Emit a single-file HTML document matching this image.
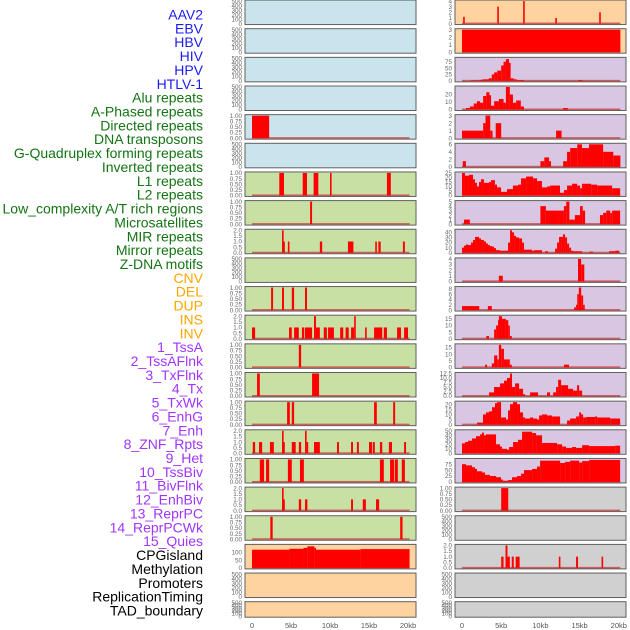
<!DOCTYPE html>
<html><head><meta charset="utf-8">
<style>
html,body{margin:0;padding:0;background:#fff;}
svg{display:block;font-family:"Liberation Sans",sans-serif;}
</style></head>
<body>
<svg id="chart" width="630" height="630" viewBox="0 0 630 630"></svg>
<script>
// ---- labels ----
const labels = ["AAV2","EBV","HBV","HIV","HPV","HTLV-1","Alu repeats","A-Phased repeats","Directed repeats","DNA transposons","G-Quadruplex forming repeats","Inverted repeats","L1 repeats","L2 repeats","Low_complexity A/T rich regions","Microsatellites","MIR repeats","Mirror repeats","Z-DNA motifs","CNV","DEL","DUP","INS","INV","1_TssA","2_TssAFlnk","3_TxFlnk","4_Tx","5_TxWk","6_EnhG","7_Enh","8_ZNF_Rpts","9_Het","10_TssBiv","11_BivFlnk","12_EnhBiv","13_ReprPC","14_ReprPCWk","15_Quies","CPGisland","Methylation","Promoters","ReplicationTiming","TAD_boundary"];
const labelGroups = [6,13,5,15,5];
const groupColors = ["#1c1cf0","#137413","#ffa500","#a035ff","#000000"];
const xTickValues = [0,5,10,15,20];
const xTickLabels = ["0","5kb","10kb","15kb","20kb"];

// ---- panel background categories ----
const col1Bg = ["b","b","b","b","b","b","g","g","g","g","g","g","g","g","g","g","g","g","g","o","o","o"];
const col2Bg = ["o","o","p","p","p","p","p","p","p","p","p","p","p","p","p","p","p","y","y","y","y","y"];
const bgColors = {b:"#c9e4ec",g:"#c9e0a5",o:"#ffd3a0",p:"#d8c6e2",y:"#d0d0d0"};

// ---- y maxima (0 = empty panel with 0..500 ticks) ----
const col1YMax = [0,0,0,0,1,0,1,1,2,0,1,2,1,1,1,2,1,2,1,146,0,0];
const col2YMax = [4,3,88,30,3,6,25,5,44,4,8.5,17,17,12.5,22,50,95,1,0,2,0,0];
const col1Ticks = [null,null,null,null,"q",null,"q","q","h",null,"q","h","q","q","q","h","q","h","q",[0,50,100],null,null];
const col2Ticks = [[0,1,2,3,4],[0,1,2,3],[0,25,50,75],[0,10,20],[0,1,2,3],[0,2,4,6],[0,5,10,15,20,25],[0,1,2,3,4,5],[0,10,20,30,40],[0,1,2,3,4],[0,2,4,6,8],[0,5,10,15],[0,5,10,15],"e",[0,5,10,15,20],[0,10,20,30,40,50],[0,25,50,75],"q",null,"h",null,null];

// ---- data segments [startKb, endKb, value] ----
const c1r4 = [[0,2.2,1]];
const c1r6 = [[3.5,4.1,1],[6.5,7.05,1],[7.9,8.5,1],[10,10.2,1],[17.3,17.8,1]];
const c1r7 = [[7.45,7.7,1]];
const c1r8 = [[3.85,4.0,2],[4.0,4.2,1],[4.6,4.8,1],[8.7,9.0,1],[12.3,13.0,1],[15.8,16.0,1],[16.2,16.5,1],[19.35,19.6,1]];
const c1r10 = [[2.45,2.7,1],[3.85,4.1,1],[5.1,5.4,1],[6.8,7.05,1]];
const c1r11 = [[0,0.4,1],[4.75,5.1,1],[5.4,6.0,1],[6.4,6.7,1],[6.8,7.7,1],[7.95,8.2,2],[8.2,8.7,1],[9.2,9.6,1],[9.75,10.5,1],[11.3,11.7,1],[12,12.4,1],[12.7,13.1,1],[13.1,13.3,2],[14.5,14.7,1],[15.65,16.7,1],[16.9,17.3,1],[18.6,19.1,1],[19.5,20,1]];
const c1r12 = [[6.0,6.3,1]];
const c1r13 = [[0.65,1.0,1],[7.7,8.6,1]];
const c1r14 = [[4.5,4.85,1],[5.1,5.4,1],[15.65,16.0,1],[18.1,18.35,1]];
const c1r15 = [[0.1,0.4,1],[0.9,1.3,1],[2.3,2.8,1],[3.85,4.0,2],[4.0,4.2,1],[5.1,5.6,1],[6.0,6.3,1],[6.8,7.0,2],[7.0,7.2,1],[7.95,8.7,1],[10.9,11.15,1],[12.7,12.95,1],[13.45,13.7,1],[15,15.4,1],[15.5,15.75,1],[16.4,16.7,1],[17.55,17.95,1],[19.5,19.75,1]];
const c1r16 = [[1.0,1.55,1],[1.8,2.2,1],[4.6,5.1,1],[6.15,6.65,1],[16.4,16.9,1],[17.7,18.2,1],[18.3,18.7,1],[19.2,19.6,1]];
const c1r17 = [[3.85,4.0,2],[4.0,4.2,1],[6.0,6.3,1],[6.8,7.1,1],[12.7,12.95,1],[14.2,14.6,1],[15.9,16.3,1]];
const c1r18 = [[2.35,2.65,1],[19.0,19.3,1]];
const c1r19 = [[0,4.8,118],[4.8,6.6,124],[6.6,7.1,130],[7.1,8.0,140],[8.0,8.2,130],[8.2,13.9,118],[13.9,20.2,122]];

const c2r0 = [[0.15,0.3,1.2],[4.5,4.65,3],[7.8,7.95,4],[11.9,12.05,1],[17.5,17.65,2]];
const c2r1 = [[0,20.2,3]];
const c2r2 = [[1.1,2.2,2],[2.2,2.6,4],[2.6,3.4,6],[3.4,3.8,10],[3.8,4.1,25],[4.1,4.5,33],[4.5,5.0,40],[5.0,5.3,60],[5.3,5.6,75],[5.6,6.0,85],[6.0,6.2,70],[6.2,6.6,10],[6.6,7.0,6],[7.0,7.9,3],[14.8,15.4,3]];
const c2r3 = [[0.5,1.0,2],[1.0,1.5,4],[1.5,1.9,8],[1.9,2.3,11],[2.3,2.7,9],[2.7,3.1,18],[3.1,3.5,23],[3.5,3.7,19],[3.7,4.1,5],[4.1,4.7,11],[4.7,5.3,14],[5.3,5.6,9],[5.6,6.1,30],[6.1,6.5,20],[6.5,6.9,9],[6.9,7.5,12],[7.5,7.9,4],[12.9,13.5,2]];
const c2r4 = [[0,2.7,1],[2.7,3.0,2],[3.0,3.6,3],[3.6,3.9,1],[4.3,5.0,2],[12,12.7,1]];
const c2r5 = [[0.1,0.5,1.5],[10,10.5,1.5],[10.5,11.1,2.5],[11.1,11.35,1.5],[12.9,13.4,1.5],[13.4,13.8,4],[13.8,14.7,5],[14.7,15.3,6],[15.3,16.2,5],[16.2,18,6],[18,19.3,4],[19.3,20.2,3]];
const c2r6 = [[0,0.38,25],[0.38,0.89,22],[0.89,1.4,23],[1.4,1.66,18],[1.66,1.91,14],[1.91,2.17,10],[2.17,2.43,15],[2.43,2.8,18],[2.8,3.45,14],[3.45,3.7,15],[3.7,4.2,17],[4.2,4.47,12],[4.47,4.98,9],[4.98,5.74,4],[5.74,6.5,7],[6.5,7.15,11],[7.15,7.53,12],[7.53,8.17,19],[8.17,9.06,21],[9.06,9.57,19],[9.57,10.2,16],[10.2,10.85,9],[10.85,11.23,10],[11.23,12.5,11],[12.5,13.0,3],[13.0,13.4,6],[13.4,14.04,11],[14.04,14.68,13],[14.68,15.06,11],[15.06,15.3,8],[15.3,16.47,13],[16.47,17.23,12],[17.23,19.15,11],[19.15,20.17,8]];
const c2r7 = [[0.25,1.0,1],[10,10.7,4],[10.7,12.25,3],[12.25,13.0,3],[13.0,13.3,4],[13.3,13.7,5],[13.7,14.4,1],[14.4,15.06,2],[15.06,15.4,4],[15.4,15.7,3],[17.6,18,2],[18,18.4,2.5],[18.4,18.9,3],[18.9,19.15,2.5],[19.15,20.17,3]];
const c2r8 = [[0,0.26,10],[0.26,0.51,14],[0.51,0.77,16],[0.77,1.15,15],[1.15,1.4,20],[1.4,1.66,25],[1.66,2.17,31],[2.17,2.43,28],[2.43,2.8,25],[2.8,3.06,22],[3.06,3.32,18],[3.32,3.57,15],[3.57,3.83,13],[3.83,4.09,12],[4.09,4.34,9],[4.34,4.85,5],[4.85,5.87,4],[5.87,6.13,20],[6.13,6.38,44],[6.38,6.64,40],[6.64,6.89,33],[6.89,7.28,30],[7.28,7.66,28],[7.66,7.91,20],[7.91,8.94,6],[8.94,9.19,4],[9.19,10.21,5],[10.6,10.98,3],[11.87,12.13,8],[12.13,12.38,20],[12.38,12.64,31],[12.64,12.89,31],[12.89,13.15,36],[13.15,13.4,30],[13.4,13.66,18],[13.66,13.91,10],[13.91,14.17,4],[14.17,15.32,3],[16.2,16.72,2],[18.77,19.53,3],[19.53,20.04,4]];
const c2r9 = [[4.7,5.2,1],[14.8,15.2,4],[15.2,15.6,3]];
const c2r10 = [[0,2.2,1.5],[3.3,3.8,1.5],[14.3,14.55,1],[14.55,14.7,2],[14.7,14.9,6],[14.9,15.2,8.5],[15.2,15.45,5.5],[15.45,15.6,2]];
const c2r11 = [[3.1,3.45,2],[4.1,4.35,7],[4.35,4.6,10],[4.6,4.7,14],[4.7,5.1,17],[5.1,5.6,15],[5.6,5.9,14],[5.9,6.1,10],[6.1,6.35,2]];
const c2r12 = [[2.95,3.2,2],[3.8,4.1,3],[4.1,4.5,9],[4.5,4.7,6],[4.7,5.0,17],[5.0,5.35,14],[5.35,5.75,6],[5.75,6.1,6],[6.1,6.35,2],[13,13.65,2]];
const c2r13 = [[3.45,4.09,2],[4.09,4.85,5],[4.85,5.36,7],[5.36,5.74,8.5],[5.74,6.13,10],[6.13,6.38,12.5],[6.38,6.77,5],[6.77,7.28,7],[7.28,7.79,4],[7.79,8.04,1],[8.68,9.7,2],[10.85,11.23,2],[11.62,12,2],[12,12.26,5],[12.26,12.64,9],[12.64,13.53,6],[13.53,14.17,4],[14.17,14.68,3],[14.68,14.94,6],[14.94,15.32,3]];
const c2r14 = [[1.91,2.68,2],[2.68,3.06,10],[3.06,3.45,12],[3.45,3.83,13],[3.83,4.21,17],[4.21,4.47,21],[4.47,4.98,22],[4.98,5.62,7],[5.62,5.87,5],[5.87,6.13,14],[6.13,6.51,20],[6.51,7.02,22],[7.02,7.4,20],[7.4,7.79,12],[7.79,8.04,7],[8.04,8.68,6],[8.68,9.06,7],[9.06,9.57,6],[9.57,9.83,5],[9.83,10.21,9],[10.21,10.85,10],[10.85,11.49,9],[11.49,12.51,8],[13.4,13.79,4],[13.79,14.55,6],[14.55,14.94,8],[14.94,15.19,12],[15.19,15.45,10],[15.45,15.83,7],[15.83,16.98,7.5],[16.98,17.23,8],[17.23,18.89,7],[18.89,20.17,6]];
const c2r15 = [[0,0.38,22],[0.38,0.77,25],[0.77,1.28,28],[1.28,1.79,33],[1.79,2.3,38],[2.3,2.55,42],[2.55,2.8,46],[2.8,3.06,40],[3.06,4.34,42],[4.34,4.85,20],[4.85,5.1,15],[5.1,5.74,10],[5.74,6.0,8],[6.0,6.51,14],[6.51,7.15,25],[7.15,7.66,30],[7.66,8.94,48],[8.94,9.45,45],[9.45,10.21,40],[10.21,12.13,23],[12.13,12.77,20],[12.77,13.28,15],[13.28,14.04,12],[14.04,14.55,14],[14.55,15.32,12],[15.32,16.21,18],[16.21,19.53,16],[19.53,20.17,17]];
const c2r16 = [[0,0.51,75],[0.51,1.28,70],[1.28,1.66,62],[1.66,1.91,55],[1.91,2.55,45],[2.55,2.94,40],[2.94,3.57,30],[3.57,4.34,25],[4.34,4.98,20],[4.98,5.23,10],[5.23,5.87,5],[5.87,6.38,8],[6.38,7.02,20],[7.02,7.53,25],[7.53,7.91,35],[7.91,8.94,50],[8.94,9.57,55],[9.57,9.96,65],[9.96,12.51,90],[12.51,13.15,80],[13.15,13.79,85],[13.79,14.94,90],[14.94,15.32,82],[15.32,16.21,88],[16.21,20.17,93]];
const c2r17 = [[5.0,5.9,1]];
const c2r19 = [[5.0,5.3,1],[5.55,5.8,2],[5.8,6.1,1],[6.35,6.6,1],[6.85,7.35,1],[12.35,12.5,1],[14.55,14.8,1],[17.8,17.95,1]];

const col1Data = [null,null,null,null,c1r4,null,c1r6,c1r7,c1r8,null,c1r10,c1r11,c1r12,c1r13,c1r14,c1r15,c1r16,c1r17,c1r18,c1r19,null,null];
const col2Data = [c2r0,c2r1,c2r2,c2r3,c2r4,c2r5,c2r6,c2r7,c2r8,c2r9,c2r10,c2r11,c2r12,c2r13,c2r14,c2r15,c2r16,c2r17,null,c2r19,null,null];

// ---- rendering ----
const NS = "http://www.w3.org/2000/svg";
const svg = document.getElementById("chart");
function mk(tag, attrs, parent) {
  const e = document.createElementNS(NS, tag);
  for (const k in attrs) e.setAttribute(k, attrs[k]);
  (parent || svg).appendChild(e);
  return e;
}
const rowTop = r => 0.05 + r * 28.65;
const rowH = r => (r === 21 ? 15.5 : 24.5);
const cols = [
  {px: 245, x0: 252, k: 7.8, bg: col1Bg, ymax: col1YMax, ticks: col1Ticks, data: col1Data},
  {px: 455, x0: 462, k: 7.84, bg: col2Bg, ymax: col2YMax, ticks: col2Ticks, data: col2Data}
];

// labels
let idx = 0;
labelGroups.forEach((n, g) => {
  for (let i = 0; i < n; i++, idx++) {
    const t = mk("text", {x: 203, y: 19.5 + idx * 13.86, "text-anchor": "end", "font-size": 14, fill: groupColors[g]});
    t.textContent = labels[idx];
    
    
  }
});

function tickList(spec, ymax) {
  if (spec === null) return {vals: [0,100,200,300,400,500], fmt: v => String(v)};
  if (spec === "q") return {vals: [0,0.25,0.5,0.75,1], fmt: v => v.toFixed(2)};
  if (spec === "h") return {vals: [0,0.5,1,1.5,2], fmt: v => v.toFixed(1)};
  if (spec === "e") return {vals: [0,2.5,5,7.5,10,12.5], fmt: v => v.toFixed(1)};
  return {vals: spec, fmt: v => String(v)};
}

cols.forEach((c, ci) => {
  for (let r = 0; r < 22; r++) {
    const top = rowTop(r), h = rowH(r), bot = top + h;
    const g = mk("g", {});
    
    
    const rect = mk("rect", {x: c.px, y: top, width: 171, height: h, fill: bgColors[c.bg[r]], stroke: "#5f5f5f", "stroke-width": 1}, g);
    
    
    const ymax = c.ymax[r] || 500;
    const Y = v => bot - 1 - (v / ymax) * (h - 2);
    const X = kb => c.x0 + kb * c.k;
    const tl = tickList(c.ticks[r], ymax);
    tl.vals.forEach(v => {
      const t = mk("text", {x: c.px - 3, y: Y(v) + 2.2, "text-anchor": "end", "font-size": 6.3, fill: "#666"}, g);
      t.textContent = tl.fmt(v);
      
      
    });
    const d = c.data[r];
    if (d) {
      const base = mk("rect", {x: X(0), y: Y(0) - 1, width: X(20.2) - X(0), height: 1.6, fill: "#c84040", opacity: 0.8}, g);
      
      
      d.forEach(s => {
        const x1 = X(s[0]), x2 = X(s[1]);
        const b = mk("rect", {x: x1, y: Y(s[2]), width: Math.max(1.6, x2 - x1), height: Y(0) - Y(s[2]), fill: "#ff0000"}, g);
        
        
      });
    }
  }
  xTickValues.forEach((v, i) => {
    const t = mk("text", {x: c.x0 + v * c.k, y: 628, "text-anchor": "middle", "font-size": 7.5, fill: "#555"});
    t.textContent = xTickLabels[i];
    
    
  });
});
</script>
</body></html>
